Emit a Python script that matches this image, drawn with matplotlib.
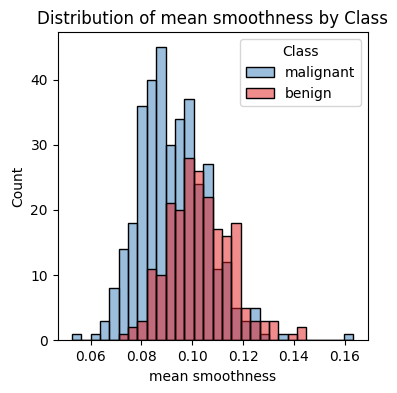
import numpy as np
import matplotlib
matplotlib.use("Agg")
import matplotlib.pyplot as plt
from matplotlib.patches import Patch
from matplotlib.colors import to_rgba

# Histogram bin range (mean smoothness) and count per bin
bin_min = 0.05263
bin_max = 0.1634
n_bins = 30

malignant_counts = [1, 0, 1, 3, 8, 14, 18, 36, 40, 45, 30, 34, 37, 24, 27,
                    11, 12, 5, 3, 5, 1, 0, 1, 0, 0, 0, 0, 0, 0, 1]
benign_counts = [0, 0, 0, 0, 0, 1, 2, 3, 11, 10, 21, 20, 28, 26, 22,
                 17, 16, 18, 5, 3, 3, 3, 0, 1, 2, 0, 0, 0, 0, 0]
classes = ["malignant", "benign"]
colors = {"malignant": "#377eb8", "benign": "#e41a1c"}

edges = np.linspace(bin_min, bin_max, n_bins + 1)
centers = (edges[:-1] + edges[1:]) / 2

fig = plt.figure(figsize=(3.97, 3.93), dpi=100)
ax = fig.add_axes([0.1453, 0.1341, 0.7804, 0.7837])

for cls, counts in zip(classes, [malignant_counts, benign_counts]):
    ax.hist(centers, bins=edges, weights=counts,
            facecolor=to_rgba(colors[cls], 0.5),
            edgecolor="black", linewidth=1.0)

ax.set_xlim(bin_min - 0.05 * (bin_max - bin_min), bin_max + 0.05 * (bin_max - bin_min))
ax.set_ylim(0, max(max(malignant_counts), max(benign_counts)) * 1.05)
ax.set_xticks([0.06, 0.08, 0.10, 0.12, 0.14, 0.16])
ax.set_yticks([0, 10, 20, 30, 40])
ax.set_xlabel("mean smoothness")
ax.set_ylabel("Count")
ax.set_title("Distribution of mean smoothness by Class")

handles = [Patch(facecolor=to_rgba(colors[c], 0.5), edgecolor="black", linewidth=1.0)
           for c in classes]
ax.legend(handles, classes, title="Class", loc="upper right")

fig.savefig("out.png", dpi=100)
